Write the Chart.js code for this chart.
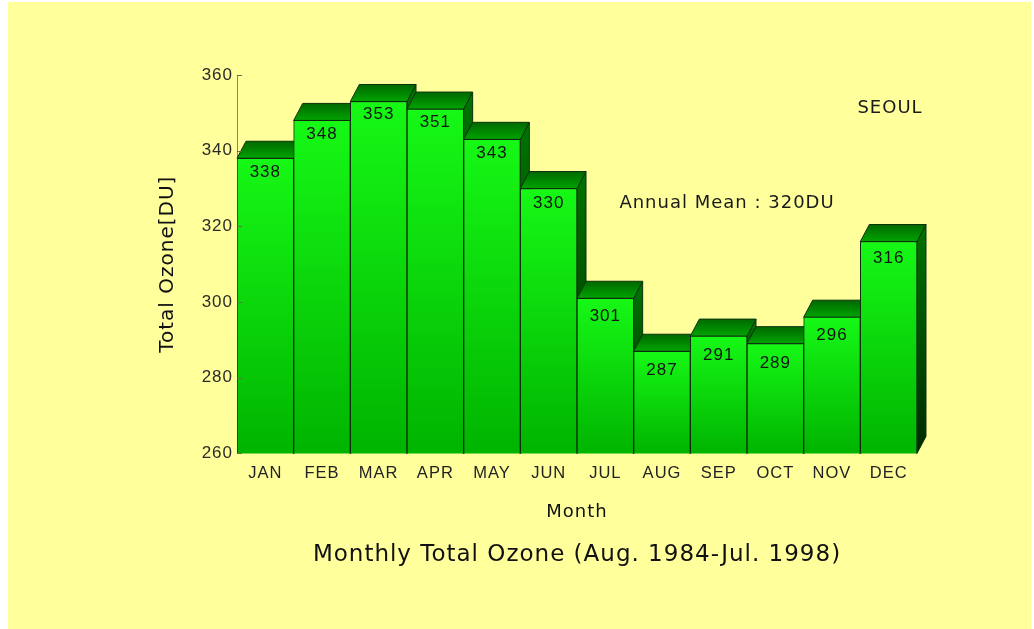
<!DOCTYPE html>
<html>
<head>
<meta charset="utf-8">
<title>Monthly Total Ozone - Seoul</title>
<script src="https://cdn.jsdelivr.net/npm/chart.js@4.4.1/dist/chart.umd.min.js"></script>
<style>
  html, body { margin: 0; padding: 0; background: #ffffff; }
  #panel { position: absolute; left: 8px; top: 2px; width: 1023px; height: 627px; background: #ffff9c; }
  canvas { display: block; }
</style>
</head>
<body>
<div id="panel"><canvas id="ozoneChart" width="1023" height="627"></canvas></div>
<script>
// monthly mean total ozone, Seoul
const months = ['JAN', 'FEB', 'MAR', 'APR', 'MAY', 'JUN', 'JUL', 'AUG', 'SEP', 'OCT', 'NOV', 'DEC'];
const ozoneDU = [338, 348, 353, 351, 343, 330, 301, 287, 291, 289, 296, 316];
const yMin = 260;
const yMax = 360;
const yStep = 20;

const chartTitle = 'Monthly Total Ozone (Aug. 1984-Jul. 1998)';
const xTitle = 'Month';
const yTitle = 'Total Ozone[DU]';
const stationLabel = 'SEOUL';
const meanLabel = 'Annual Mean : 320DU';

// oblique depth of the boxes
const DX = 9;
const DY = 17;

function frontFill(context) {
    const chart = context.chart;
    const yScale = chart.scales.y;
    if (!chart.chartArea || !yScale || context.raw == null) return '#00e000';
    const top = yScale.getPixelForValue(context.raw);
    const bottom = yScale.getPixelForValue(yMin);
    const g = chart.ctx.createLinearGradient(0, top, 0, bottom);
    g.addColorStop(0, '#16f816');
    g.addColorStop(1, '#00b400');
    return g;
}

const boxFaces = {
    id: 'boxFaces',
    beforeDraw(chart) {
        chart.ctx.letterSpacing = '1px';
    },
    // top and side faces go underneath the front faces
    beforeDatasetsDraw(chart) {
        const ctx = chart.ctx;
        const meta = chart.getDatasetMeta(0);
        const base = chart.scales.y.getPixelForValue(yMin);
        ctx.save();
        ctx.lineWidth = 1;
        ctx.strokeStyle = '#0c330c';
        meta.data.forEach(bar => {
            const p = bar.getProps(['x', 'y', 'width'], true);
            const l = p.x - p.width / 2;
            const r = p.x + p.width / 2;

            let g = ctx.createLinearGradient(0, p.y - DY, 0, base);
            g.addColorStop(0, '#007400');
            g.addColorStop(1, '#002a00');
            ctx.beginPath();
            ctx.moveTo(r, p.y);
            ctx.lineTo(r + DX, p.y - DY);
            ctx.lineTo(r + DX, base - DY);
            ctx.lineTo(r, base);
            ctx.closePath();
            ctx.fillStyle = g;
            ctx.fill();
            ctx.stroke();

            g = ctx.createLinearGradient(0, p.y - DY, 0, p.y);
            g.addColorStop(0, '#006800');
            g.addColorStop(1, '#00a400');
            ctx.beginPath();
            ctx.moveTo(l, p.y);
            ctx.lineTo(l + DX, p.y - DY);
            ctx.lineTo(r + DX, p.y - DY);
            ctx.lineTo(r, p.y);
            ctx.closePath();
            ctx.fillStyle = g;
            ctx.fill();
            ctx.stroke();
        });
        ctx.restore();
    },
    afterDatasetsDraw(chart) {
        const ctx = chart.ctx;
        const area = chart.chartArea;
        const meta = chart.getDatasetMeta(0);
        const yScale = chart.scales.y;
        ctx.save();

        // small tick marks on the value axis
        ctx.strokeStyle = '#6f6852';
        ctx.lineWidth = 1;
        yScale.ticks.forEach(t => {
            const py = Math.round(yScale.getPixelForValue(t.value)) + 0.5;
            ctx.beginPath();
            ctx.moveTo(yScale.right, py);
            ctx.lineTo(yScale.right + 5, py);
            ctx.stroke();
        });

        // value labels inside the boxes
        ctx.fillStyle = '#141414';
        ctx.font = '17px "Liberation Sans", Arial, sans-serif';
        ctx.textAlign = 'center';
        ctx.textBaseline = 'middle';
        ctx.letterSpacing = '1px';
        meta.data.forEach((bar, i) => {
            const p = bar.getProps(['x', 'y'], true);
            const off = 13 + 0.026 * (p.y - area.top - 26);
            ctx.fillText(String(ozoneDU[i]), p.x, p.y + off);
        });

        // station name and annual mean
        ctx.fillStyle = '#1a1a1a';
        ctx.font = '18px "DejaVu Sans", sans-serif';
        ctx.fillText(stationLabel, area.right - 27, area.top + 33);
        ctx.fillText(meanLabel, area.left + 490, area.top + 128);
        ctx.restore();
    }
};

new Chart(document.getElementById('ozoneChart'), {
    type: 'bar',
    data: {
        labels: months,
        datasets: [{
            label: 'Total Ozone',
            data: ozoneDU,
            backgroundColor: frontFill,
            borderColor: '#0f2a0f',
            borderWidth: 1,
            borderSkipped: false,
            barPercentage: 1,
            categoryPercentage: 1
        }]
    },
    options: {
        responsive: false,
        animation: false,
        devicePixelRatio: 1,
        layout: {
            padding: { left: 144, right: 114, top: 73, bottom: 60 }
        },
        plugins: {
            legend: { display: false },
            tooltip: { enabled: false },
            title: {
                display: true,
                text: chartTitle,
                position: 'bottom',
                fullSize: false,
                color: '#111111',
                font: { family: '"DejaVu Sans", sans-serif', size: 23, weight: 'normal' },
                padding: { top: 14, bottom: 0 }
            }
        },
        scales: {
            x: {
                grid: { display: false, drawTicks: false },
                border: { display: false },
                ticks: {
                    color: '#222222',
                    font: { family: '"Liberation Sans", Arial, sans-serif', size: 16.5 },
                    padding: 10,
                    maxRotation: 0,
                    autoSkip: false
                },
                title: {
                    display: true,
                    text: xTitle,
                    color: '#111111',
                    font: { family: '"DejaVu Sans", sans-serif', size: 18 },
                    padding: { top: 0, bottom: 4 }
                },
                afterFit(scale) { scale.height = 74; }
            },
            y: {
                min: yMin,
                max: yMax,
                ticks: {
                    stepSize: yStep,
                    color: '#2a2a2a',
                    font: { family: '"Liberation Sans", Arial, sans-serif', size: 17 },
                    padding: 4
                },
                grid: { display: false, drawTicks: false },
                border: { display: true, color: '#8c8670', width: 1 },
                title: {
                    display: true,
                    text: yTitle,
                    color: '#111111',
                    font: { family: '"DejaVu Sans", sans-serif', size: 20 },
                    padding: { top: 4, bottom: 4 }
                },
                afterFit(scale) { scale.width = 85; }
            }
        }
    },
    plugins: [boxFaces]
});
</script>
</body>
</html>
